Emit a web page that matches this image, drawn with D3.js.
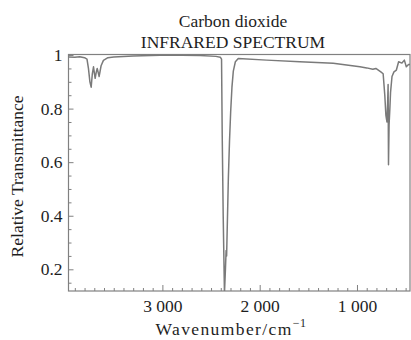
<!DOCTYPE html>
<html>
<head>
<meta charset="utf-8">
<script src="https://cdn.jsdelivr.net/npm/d3@7"></script>
<style>
  body { margin: 0; background: #fff; }
  svg text { font-family: "Liberation Serif", "DejaVu Serif", serif; fill: #1e1e1e; }
</style>
</head>
<body>
<div id="chart"></div>
<script>
// spectrum: wavenumber (cm-1) and relative transmittance
const wavenumbers = [
    3965, 3900, 3850, 3800, 3775, 3760, 3745, 3732, 3720, 3708,
    3698, 3691, 3680, 3670, 3660, 3650, 3630, 3606, 3560, 3500,
    3300, 3024, 2800, 2613, 2450, 2405, 2392, 2385, 2375, 2362,
    2352, 2345, 2340, 2335, 2322, 2310, 2298, 2285, 2271, 2250,
    2220, 1928, 1588, 1244, 970, 900, 837, 806, 755, 731,
    714, 703, 692, 685, 680, 676, 670, 662, 655, 640,
    620, 595, 572, 538, 513, 493, 470, 455
];
const transmittance = [
    0.993, 0.992, 0.994, 0.99, 0.985, 0.95, 0.9, 0.88, 0.93, 0.956,
    0.93, 0.913, 0.935, 0.95, 0.935, 0.92, 0.96, 0.98, 0.99, 0.993,
    0.996, 0.999, 0.999, 0.998, 0.995, 0.992, 0.985, 0.7, 0.4, 0.11,
    0.2, 0.27, 0.25, 0.33, 0.54, 0.68, 0.79, 0.88, 0.94, 0.975,
    0.987, 0.981, 0.975, 0.969, 0.956, 0.952, 0.947, 0.95, 0.937, 0.93,
    0.85, 0.776, 0.75, 0.82, 0.89, 0.59, 0.74, 0.8, 0.86, 0.92,
    0.937, 0.944, 0.975, 0.97, 0.981, 0.956, 0.965, 0.965
];
const xMajorTicks = [3000, 2000, 1000];
const yMajorTicks = [0.2, 0.4, 0.6, 0.8, 1];
const titleLines = ['Carbon dioxide', 'INFRARED SPECTRUM'];

const width = 411;
const height = 340;
const margin = { top: 54.5, right: 1, bottom: 49, left: 68.5 };
const fontSize = 17.5;

const svg = d3.select('#chart')
    .append('svg')
    .attr('width', width)
    .attr('height', height);

const x = d3.scaleLinear()
    .domain([3965, 455])
    .range([margin.left, width - margin.right]);

const y = d3.scaleLinear()
    .domain([0.119, 1.002])
    .range([height - margin.bottom, margin.top]);

const grey = '#808080';
const spaced = d3.formatLocale({ decimal: '.', thousands: ' ', grouping: [3], currency: ['', ''] }).format(',');

// clip so the deep band stops at the frame
svg.append('clipPath').attr('id', 'plot-clip')
    .append('rect')
    .attr('x', margin.left)
    .attr('y', margin.top)
    .attr('width', width - margin.right - margin.left)
    .attr('height', height - margin.bottom - margin.top);

// x axis: minor ticks every 100, majors every 1000
const minorX = d3.range(500, 4000, 100).filter(d => d % 1000 !== 0);
svg.append('g')
    .attr('transform', `translate(0,${height - margin.bottom})`)
    .call(d3.axisBottom(x).tickValues(minorX).tickSize(-3).tickFormat(''))
    .call(g => g.select('.domain').remove());

svg.append('g')
    .attr('class', 'x-axis')
    .attr('transform', `translate(0,${height - margin.bottom})`)
    .call(d3.axisBottom(x).tickValues(xMajorTicks).tickSize(-6).tickPadding(9).tickFormat(spaced))
    .call(g => g.select('.domain').remove());

// y axis: minor every 0.05
const minorY = d3.range(0.15, 1.0, 0.05).filter(d => Math.abs(d * 5 - Math.round(d * 5)) > 1e-6);
svg.append('g')
    .attr('transform', `translate(${margin.left},0)`)
    .call(d3.axisLeft(y).tickValues(minorY).tickSize(-3).tickFormat(''))
    .call(g => g.select('.domain').remove());

svg.append('g')
    .attr('class', 'y-axis')
    .attr('transform', `translate(${margin.left},0)`)
    .call(d3.axisLeft(y).tickValues(yMajorTicks).tickSize(-5).tickPadding(6).tickFormat(d => String(+d.toFixed(1))))
    .call(g => g.select('.domain').remove());

svg.selectAll('.tick line').attr('stroke', grey);
svg.selectAll('.tick text')
    .attr('font-size', fontSize)
    .attr('font-family', '"Liberation Serif", serif')
    .attr('fill', '#1e1e1e');
svg.select('.x-axis').selectAll('.tick text').attr('dy', '0.71em');

// frame
svg.append('rect')
    .attr('x', margin.left)
    .attr('y', margin.top)
    .attr('width', width - margin.right - margin.left)
    .attr('height', height - margin.bottom - margin.top)
    .attr('fill', 'none')
    .attr('stroke', grey)
    .attr('stroke-width', 1.2);

// spectrum
const points = wavenumbers.map((w, i) => [w, transmittance[i]]);
const line = d3.line()
    .x(d => x(d[0]))
    .y(d => y(d[1]));

svg.append('path')
    .datum(points)
    .attr('clip-path', 'url(#plot-clip)')
    .attr('d', line)
    .attr('fill', 'none')
    .attr('stroke', '#7a7a7a')
    .attr('stroke-width', 1.5)
    .attr('stroke-linejoin', 'round');

// titles
svg.append('text')
    .attr('x', 233)
    .attr('y', 26.5)
    .attr('text-anchor', 'middle')
    .attr('font-size', fontSize)
    .text(titleLines[0]);

svg.append('text')
    .attr('x', 233)
    .attr('y', 48.3)
    .attr('text-anchor', 'middle')
    .attr('font-size', fontSize)
    .text(titleLines[1]);

// axis labels
const xLabel = svg.append('text')
    .attr('x', 231)
    .attr('y', 335)
    .attr('text-anchor', 'middle')
    .attr('letter-spacing', 1.4)
    .attr('font-size', fontSize);
xLabel.append('tspan').text('Wavenumber/cm');
xLabel.append('tspan').attr('dy', -8).attr('font-size', 12).attr('letter-spacing', 0.5).text('\u22121');

svg.append('text')
    .attr('transform', 'translate(23,176.5) rotate(-90)')
    .attr('text-anchor', 'middle')
    .attr('font-size', fontSize)
    .text('Relative Transmittance');
</script>
</body>
</html>
